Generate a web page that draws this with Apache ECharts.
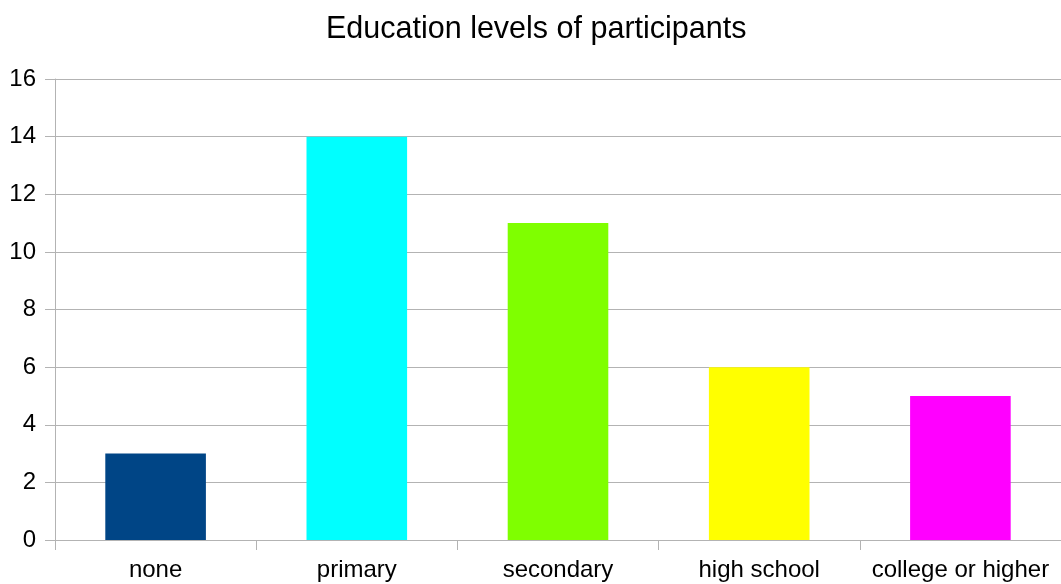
<!DOCTYPE html>
<html>
<head>
<meta charset="utf-8">
<style>
  html, body { margin: 0; padding: 0; background: #fff; }
  #chart { width: 1061px; height: 584px; }
</style>
<script src="https://cdn.jsdelivr.net/npm/echarts@6/dist/echarts.min.js"></script>
</head>
<body>
<div id="chart"></div>
<script>
// Education level categories and participant counts
const categories = ['none', 'primary', 'secondary', 'high school', 'college or higher'];
const counts = [3, 14, 11, 6, 5];
const barColors = ['#004586', '#00ffff', '#7fff00', '#ffff00', '#ff00ff'];
const yTicks = { min: 0, max: 16, interval: 2 };

const chart = echarts.init(document.getElementById('chart'), null, { renderer: 'canvas' });
const gridGray = '#b3b3b3';
const font = 'Liberation Sans, Arial, sans-serif';

chart.setOption({
  backgroundColor: '#ffffff',
  animation: false,
  title: {
    text: 'Education levels of participants',
    left: 321,
    top: 9,
    textStyle: { fontFamily: font, fontSize: 30.5, fontWeight: 'normal', color: '#000' }
  },
  grid: { left: 55, right: 0, top: 79, bottom: 44 },
  xAxis: {
    type: 'category',
    data: categories,
    axisLine: { show: true, lineStyle: { color: gridGray, width: 1 } },
    axisTick: { show: true, alignWithLabel: false, length: 10, lineStyle: { color: gridGray } },
    axisLabel: { interval: 0, margin: 18, fontFamily: font, fontSize: 24, color: '#000' }
  },
  yAxis: {
    type: 'value',
    min: yTicks.min,
    max: yTicks.max,
    interval: yTicks.interval,
    axisLine: { show: true, lineStyle: { color: gridGray, width: 1 } },
    axisTick: { show: true, length: 10, lineStyle: { color: gridGray } },
    splitLine: { show: true, lineStyle: { color: gridGray, width: 1 } },
    axisLabel: { margin: 19, fontFamily: font, fontSize: 24, color: '#000' }
  },
  series: [{
    type: 'bar',
    barWidth: '50%',
    data: counts.map((v, i) => ({ value: v, itemStyle: { color: barColors[i] } }))
  }]
});
</script>
</body>
</html>
